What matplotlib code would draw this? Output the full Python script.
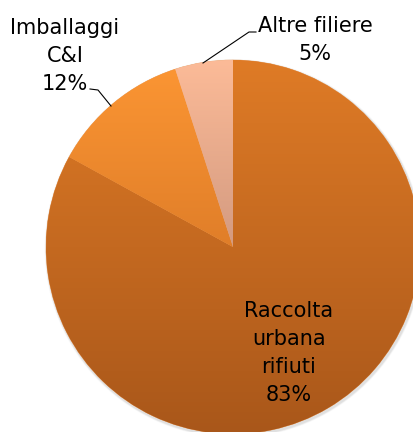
import numpy as np
import matplotlib
matplotlib.use("Agg")
import matplotlib.pyplot as plt
from matplotlib.colors import LinearSegmentedColormap
from matplotlib.patches import Circle


# ==========================================================
# Data
# ==========================================================

labels = [
    "Raccolta\nurbana\nrifiuti",
    "Imballaggi\nC&I",
    "Altre filiere",
]

shares = [83, 12, 5]

# gradient colours per slice (top, bottom)
top_colors = ["#df7b26", "#fb9533", "#fcbb98"]
bottom_colors = ["#a9571a", "#e07e29", "#d39a80"]


# ==========================================================
# Figure
# ==========================================================

W, H = 413, 432

fig = plt.figure(figsize=(W / 100, H / 100), dpi=100)
ax = fig.add_axes([0, 0, 1, 1])
ax.axis("off")

cx, cy, r = 233, H - 247, 187

# soft shadow
for k, a in [(4, 0.05), (3, 0.08), (2, 0.12)]:
    ax.add_patch(
        Circle((cx + 1, cy - 1.5), r + k * 0.6, facecolor="#808080",
               edgecolor="none", alpha=a, zorder=0)
    )

wedges, _ = ax.pie(
    shares,
    startangle=90,
    counterclock=False,
    center=(cx, cy),
    radius=r,
    colors=top_colors,
    wedgeprops=dict(linewidth=0.4, edgecolor="#e9a46a"),
    frame=True,
)

# vertical gradient inside each slice
for w, c0, c1 in zip(wedges, top_colors, bottom_colors):
    x0, y0, x1, y1 = w.get_path().get_extents(w.get_patch_transform()).extents
    cmap = LinearSegmentedColormap.from_list("g", [c1, c0])
    grad = np.linspace(0, 1, 256).reshape(-1, 1)
    im = ax.imshow(grad, cmap=cmap, extent=[x0, x1, y0, y1],
                   origin="lower", aspect="auto", zorder=1.5)
    im.set_clip_path(w)

ax.set_xlim(0, W)
ax.set_ylim(0, H)
ax.set_aspect("auto")

font = dict(family="DejaVu Sans", fontsize=15, color="black",
            ha="center", va="center", linespacing=1.5)

# labels
ax.text(289, H - 353, f"{labels[0]}\n{shares[0]}%", zorder=5, **font)
ax.text(65, H - 56, f"{labels[1]}\n{shares[1]}%", zorder=5, **font)
ax.text(315, H - 40, f"{labels[2]}\n{shares[2]}%", zorder=5, **font)

# leader lines
ax.plot([90, 98, 111], [H - 89, H - 90, H - 106],
        color="black", linewidth=0.8, zorder=5)
ax.plot([256, 249, 203], [H - 32, H - 32, H - 63],
        color="black", linewidth=0.8, zorder=5)

fig.savefig("out.png", dpi=100)
